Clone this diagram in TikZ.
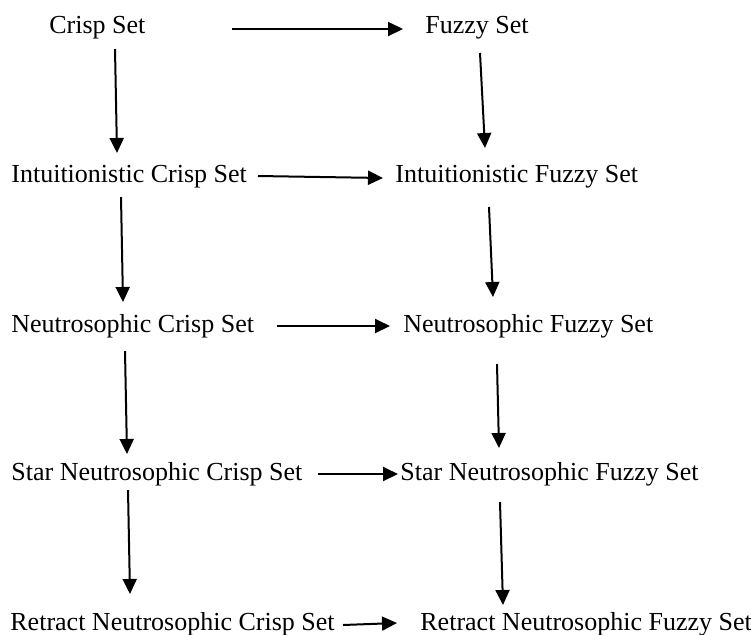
\documentclass[tikz,border=0pt]{standalone}
\usepackage{fontspec}
\setmainfont{Liberation Serif}
\usetikzlibrary{arrows.meta}
\begin{document}
\begin{tikzpicture}[x=0.5pt,y=-0.5pt,
    set/.style={inner sep=0pt,anchor=base west,font=\fontsize{13}{15.6}\selectfont},
    arr/.style={-{Triangle[length=7.5pt,width=7pt]},line width=1pt}]
    \useasboundingbox (0,0) rectangle (751,634);
    \node [set] (A0_0) at (49,33) {Crisp Set};
    \node [set] (A0_1) at (425,33) {Fuzzy Set};
    \node [set] (A1_0) at (11,182) {Intuitionistic Crisp Set};
    \node [set] (A1_1) at (395,182) {Intuitionistic Fuzzy Set};
    \node [set] (A2_0) at (11,332) {Neutrosophic Crisp Set};
    \node [set] (A2_1) at (403,332) {Neutrosophic Fuzzy Set};
    \node [set] (A3_0) at (11,480) {Star Neutrosophic Crisp Set};
    \node [set] (A3_1) at (400,480) {Star Neutrosophic Fuzzy Set};
    \node [set] (A4_0) at (10,630) {Retract Neutrosophic Crisp Set};
    \node [set] (A4_1) at (420,630) {Retract Neutrosophic Fuzzy Set};
    % crisp -> fuzzy
    \path ([shift={(183,-4)}]A0_0.base west) edge [arr] ([shift={(-22,-4)}]A0_1.base west);
    \path ([shift={(247,-6)}]A1_0.base west) edge [arr] ([shift={(-12,-4)}]A1_1.base west);
    \path ([shift={(266,-6)}]A2_0.base west) edge [arr] ([shift={(-13,-6)}]A2_1.base west);
    \path ([shift={(307,-6)}]A3_0.base west) edge [arr] ([shift={(-2,-6)}]A3_1.base west);
    \path ([shift={(333,-5)}]A4_0.base west) edge [arr] ([shift={(-23,-7)}]A4_1.base west);
    % downwards
    \path ([shift={(66,16)}]A0_0.base west) edge [arr] ([shift={(106,-29)}]A1_0.base west);
    \path ([shift={(55,20)}]A0_1.base west) edge [arr] ([shift={(90,-34)}]A1_1.base west);
    \path ([shift={(110,15)}]A1_0.base west) edge [arr] ([shift={(112,-30)}]A2_0.base west);
    \path ([shift={(94,25)}]A1_1.base west) edge [arr] ([shift={(90,-35)}]A2_1.base west);
    \path ([shift={(114,19)}]A2_0.base west) edge [arr] ([shift={(116,-26)}]A3_0.base west);
    \path ([shift={(94,32)}]A2_1.base west) edge [arr] ([shift={(99,-32)}]A3_1.base west);
    \path ([shift={(117,10)}]A3_0.base west) edge [arr] ([shift={(120,-36)}]A4_0.base west);
    \path ([shift={(100,22)}]A3_1.base west) edge [arr] ([shift={(83,-25)}]A4_1.base west);
  \end{tikzpicture}
\end{document}
